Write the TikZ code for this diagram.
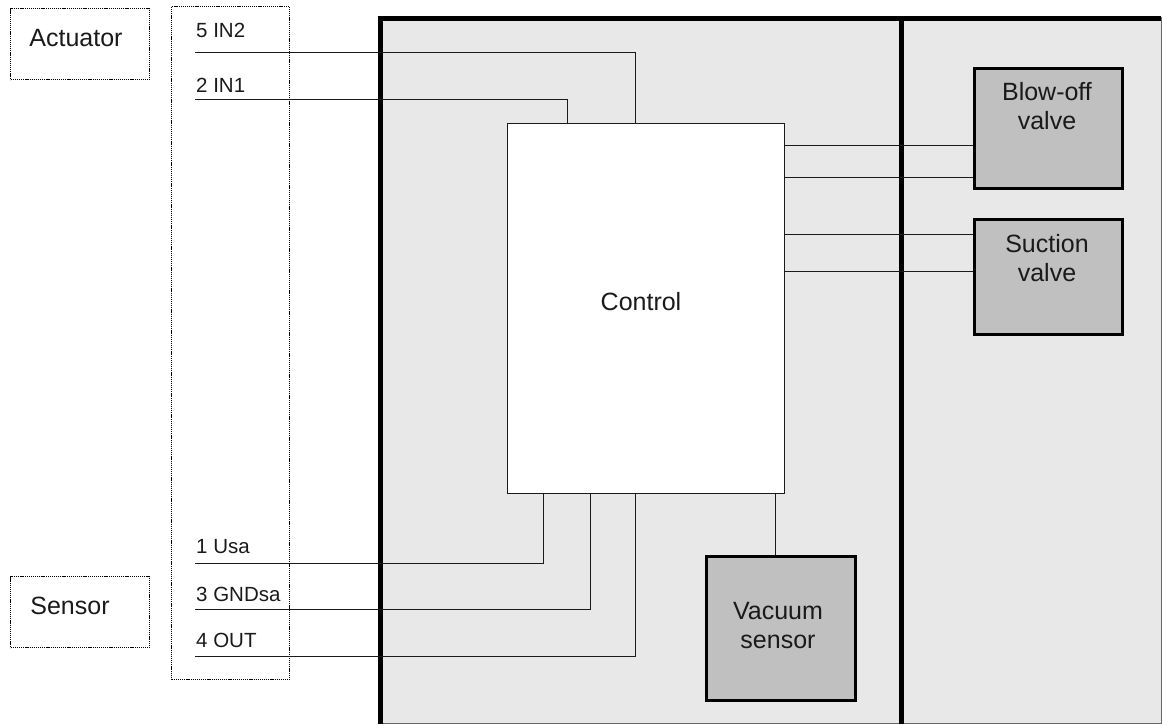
\documentclass[tikz,border=0pt]{standalone}
\usepackage{fontspec}
\setmainfont{Liberation Sans}
\usetikzlibrary{calc}
\definecolor{panelgray}{HTML}{E8E8E8}
\definecolor{boxgray}{HTML}{C0C0C0}
\definecolor{ink}{HTML}{1A1A1A}
\tikzset{
  dotbox/.style={draw=black, line width=1.2pt, dash pattern=on 1.2pt off 0.9pt, rectangle, inner sep=0pt},
  wire/.style={draw=ink, line width=1pt},
  thickframe/.style={draw=black, line width=5pt},
  panelbox/.style={rectangle, fill=panelgray, draw=gray!80!black, line width=1pt, inner sep=0pt},
  ctrlbox/.style={rectangle, fill=white, draw=ink, line width=1pt, inner sep=0pt},
  unitbox/.style={rectangle, fill=boxgray, draw=black, line width=3pt, inner sep=0pt},
  bigtxt/.style={font=\fontsize{25}{29}\selectfont, text=ink, inner sep=0pt, align=center},
  pintxt/.style={font=\fontsize{20.5}{24}\selectfont, text=ink, inner sep=0pt, anchor=base west},
}
\begin{document}
\begin{tikzpicture}[x=1pt,y=-1pt]
\useasboundingbox (0,0) rectangle (1162,724);
% panels
\node[panelbox, minimum width=521pt, minimum height=706pt, anchor=north west] (panelL) at (380,17) {};
\node[panelbox, minimum width=260pt, minimum height=706pt, anchor=north west] (panelR) at (901,17) {};
\draw[thickframe] (378,18.5) -- (1161,18.5);
\draw[thickframe] (380.5,16) -- (380.5,724);
\draw[thickframe] (901,16) -- (901,724);

% left boxes
\node[dotbox, minimum width=139pt, minimum height=71pt, anchor=north west] (act) at (10,8) {};
\node[bigtxt] (acttxt) at (76,38) {Actuator};
\node[dotbox, minimum width=139pt, minimum height=71pt, anchor=north west] (sen) at (10,576) {};
\node[bigtxt] (sentxt) at (70,606) {Sensor};
\node[dotbox, minimum width=118pt, minimum height=673pt, anchor=north west] (conn) at (171,6) {};

% pin labels
\node[pintxt] (l5) at (196,37) {5 IN2};
\node[pintxt] (l2) at (196,92) {2 IN1};
\node[pintxt] (l1) at (196,553) {1 Usa};
\node[pintxt] (l3) at (196,601) {3 GNDsa};
\node[pintxt] (l4) at (196,647) {4 OUT};

\coordinate (p5) at (195,52);
\coordinate (p2) at (195,99);
\coordinate (p1) at (195,563);
\coordinate (p3) at (195,609);
\coordinate (p4) at (195,656);

% control
\node[ctrlbox, minimum width=277pt, minimum height=370pt, anchor=north west] (ctrl) at (507,123) {};
\node[bigtxt] (ctrltxt) at (641,302) {Control};

% valves and sensor
\node[unitbox, minimum width=148pt, minimum height=120pt, anchor=north west] (bov) at (973,67) {};
\node[bigtxt, anchor=north] (bovtxt) at (1047,82) {Blow-off\\valve};
\node[unitbox, minimum width=148pt, minimum height=115pt, anchor=north west] (suc) at (973,218) {};
\node[bigtxt, anchor=north] (suctxt) at (1047,234) {Suction\\valve};
\node[unitbox, minimum width=149pt, minimum height=144pt, anchor=north west] (vac) at (705,555) {};
\node[bigtxt, anchor=north] (vactxt) at (778,602) {Vacuum\\sensor};

% wires top
\draw[wire] (p5) -| (ctrl.north -| 635,0);
\draw[wire] (p2) -| (ctrl.north -| 567,0);
% wires bottom
\draw[wire] (p1) -| (ctrl.south -| 543,0);
\draw[wire] (p3) -| (ctrl.south -| 590,0);
\draw[wire] (p4) -| (ctrl.south -| 635,0);
% wires right
\draw[wire] (ctrl.east |- 0,145) -- (bov.west |- 0,145);
\draw[wire] (ctrl.east |- 0,177) -- (bov.west |- 0,177);
\draw[wire] (ctrl.east |- 0,234) -- (suc.west |- 0,234);
\draw[wire] (ctrl.east |- 0,271) -- (suc.west |- 0,271);
% vacuum sensor
\draw[wire] (ctrl.south -| 775,0) -- (vac.north -| 775,0);
\end{tikzpicture}
\end{document}
